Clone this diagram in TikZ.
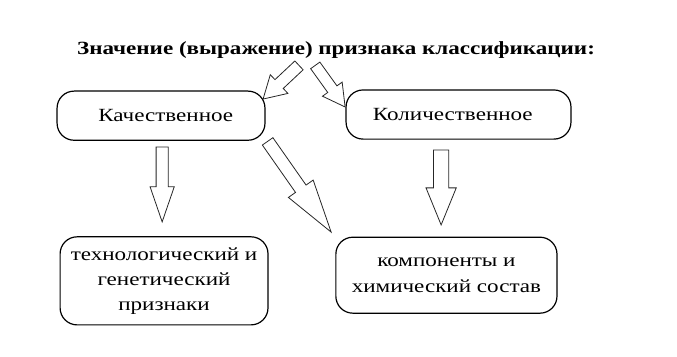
\documentclass[tikz,border=0pt]{standalone}
\usepackage{fontspec}
\setmainfont{Liberation Serif}[FakeStretch=1.24]
\usepackage{tikz}
\usetikzlibrary{calc}

\begin{document}
\begin{tikzpicture}[
 rbox/.style={draw=black, line width=0.9pt, rounded corners=0.45cm, align=center, inner sep=0pt,
   font=\fontsize{14}{19}\selectfont},
 barr/.style={draw=black!85, line width=0.6pt, line join=miter, fill=white},
]
 \useasboundingbox (0,0) rectangle (17.91,-9.42);
 % heading
 \node[font=\fontsize{14}{17}\selectfont\bfseries, anchor=base] (title) at (8.89,-1.455)
   {Значение (выражение) признака классификации:};
 % boxes
 \node[rbox, minimum width=5.50cm, minimum height=1.30cm] (kach) at (4.26,-3.06)
   {\hspace*{0.25cm}Качественное};
 \node[rbox, minimum width=5.95cm, minimum height=1.30cm] (kolich) at (12.13,-3.03)
   {Количественное\hspace*{0.3cm}};
 \node[rbox, minimum width=5.50cm, minimum height=2.33cm] (tekh) at (4.34,-7.43)
   {технологический и\\генетический\\признаки};
 \node[rbox, minimum width=5.85cm, minimum height=2.01cm] (komp) at (11.81,-7.28)
   {компоненты и\\химический состав};
 % ends of the block arrows
 \coordinate (tA) at (7.91,-1.73);  \coordinate (hA) at (6.96,-2.62);
 \coordinate (tB) at (8.34,-1.73);  \coordinate (hB) at (9.13,-2.83);
 \coordinate (tC) at (4.29,-3.89);  \coordinate (hC) at (4.29,-5.87);
 \coordinate (tD) at (7.08,-3.74);  \coordinate (hD) at (8.76,-6.14);
 \coordinate (tE) at (11.67,-3.97); \coordinate (hE) at (11.67,-5.95);
 % block arrows: tail/tip/shaft half width/head half width/head length
 \foreach \src/\dst/\sw/\hw/\hl in {tA/hA/0.16cm/0.34cm/0.58cm, tB/hB/0.15cm/0.32cm/0.58cm,
   tC/hC/0.16cm/0.32cm/0.93cm, tD/hD/0.17cm/0.40cm/1.40cm, tE/hE/0.20cm/0.40cm/0.98cm}{
   \coordinate (base) at ($(\dst)!\hl!(\src)$);
   \draw[barr] ($(\src)!\sw!90:(\dst)$) -- ($(base)!\sw!-90:(\src)$) -- ($(base)!\hw!-90:(\src)$)
     -- (\dst) -- ($(base)!\hw!90:(\src)$) -- ($(base)!\sw!90:(\src)$) -- ($(\src)!\sw!-90:(\dst)$) -- cycle;
 }
\end{tikzpicture}
\end{document}
